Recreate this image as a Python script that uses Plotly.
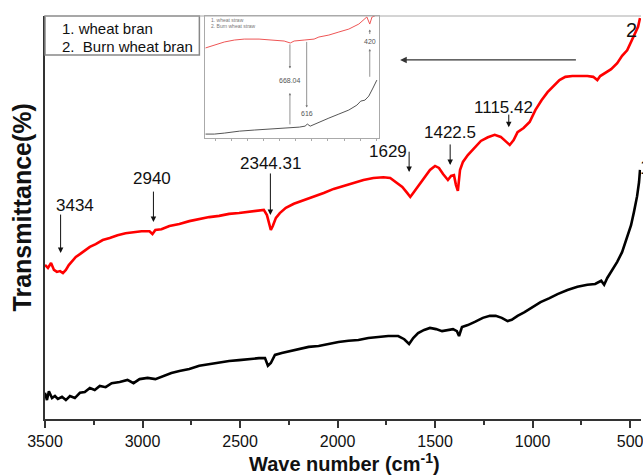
import plotly.graph_objects as go

# ---------------- main spectrum data ----------------
red_wn = [3500, 3485, 3469, 3454, 3439, 3423, 3408, 3393, 3378, 3362, 3342, 3321, 3301, 3270, 3240,
          3204, 3168, 3128, 3087, 3046, 3005, 2964, 2949, 2934, 2903, 2862, 2811, 2760, 2709, 2658,
          2607, 2556, 2505, 2454, 2403, 2378, 2362, 2352, 2342, 2332, 2316, 2296, 2265, 2224, 2173,
          2122, 2071, 2020, 1969, 1918, 1867, 1816, 1765, 1730, 1699, 1668, 1643, 1627, 1612, 1587,
          1556, 1526, 1500, 1480, 1459, 1434, 1418, 1403, 1393, 1383, 1372, 1357, 1332, 1301, 1265,
          1229, 1194, 1163, 1138, 1117, 1097, 1077, 1046, 1015, 985, 954, 923, 893, 862, 832,
          796, 760, 719, 689, 668, 653, 627, 597, 566, 541, 515, 495, 474, 459, 449]
red_t = [38.2, 37.5, 38.7, 37.0, 36.5, 36.7, 36.2, 37.0, 38.2, 39.0, 40.2, 40.9, 41.7, 42.7, 43.4,
         44.4, 44.9, 45.6, 46.1, 46.4, 46.6, 46.6, 45.9, 46.9, 47.1, 47.9, 48.4, 49.1, 49.6, 50.1,
         50.4, 50.9, 51.1, 51.4, 51.6, 51.9, 50.6, 48.4, 46.9, 47.9, 49.9, 51.1, 52.4, 53.4, 54.3,
         55.1, 56.1, 57.1, 57.8, 58.6, 59.3, 59.8, 60.0, 59.8, 58.8, 57.6, 56.1, 55.1, 56.1, 57.8,
         59.8, 61.8, 62.8, 62.3, 60.8, 59.3, 60.3, 60.5, 58.1, 56.6, 61.8, 63.8, 65.5, 67.2, 69.0,
         69.9, 70.5, 70.0, 69.0, 68.0, 69.2, 71.2, 72.2, 73.7, 76.7, 79.1, 81.1, 82.6, 84.1, 84.9,
         85.1, 85.1, 85.1, 84.9, 84.1, 85.1, 85.8, 86.8, 88.3, 90.1, 91.5, 93.5, 95.5, 97.3, 99.5]

black_wn = [3500, 3490, 3480, 3464, 3449, 3434, 3413, 3393, 3372, 3347, 3321, 3296, 3270, 3245, 3219,
            3189, 3158, 3117, 3077, 3046, 3015, 2974, 2934, 2893, 2852, 2811, 2760, 2709, 2658, 2607,
            2556, 2505, 2454, 2403, 2372, 2357, 2342, 2321, 2286, 2240, 2199, 2148, 2097, 2046, 1995,
            1944, 1893, 1842, 1791, 1740, 1689, 1658, 1633, 1612, 1587, 1556, 1526, 1495, 1464, 1434,
            1408, 1388, 1377, 1362, 1332, 1296, 1255, 1219, 1189, 1158, 1128, 1107, 1077, 1041, 1000,
            959, 913, 872, 821, 770, 719, 679, 648, 633, 617, 592, 566, 541, 515, 495,
            480, 464, 454, 449]
black_t = [6.5, 4.7, 6.9, 5.2, 5.7, 5.0, 5.5, 4.7, 5.7, 5.2, 6.5, 6.7, 7.7, 7.2, 8.2,
           7.9, 8.9, 9.2, 9.7, 8.9, 9.9, 10.2, 9.9, 10.7, 11.4, 11.9, 12.4, 13.2, 13.6, 14.1,
           14.4, 14.6, 14.9, 15.1, 15.1, 13.2, 13.9, 15.9, 16.4, 16.9, 17.4, 17.9, 18.1, 18.6, 19.1,
           19.4, 19.6, 20.1, 20.3, 20.6, 20.6, 19.8, 18.6, 20.1, 21.3, 22.1, 22.6, 22.3, 21.8, 22.1,
           22.3, 21.8, 20.6, 22.8, 23.3, 24.1, 25.1, 25.6, 25.6, 25.1, 24.3, 24.6, 25.6, 26.5, 27.8,
           29.0, 30.0, 31.0, 32.0, 32.8, 33.3, 33.5, 34.3, 33.3, 35.0, 37.0, 39.0, 41.4, 44.9, 48.1,
           51.4, 55.3, 58.8, 61.8]

peak_labels = ["3434", "2940", "2344.31", "1629", "1422.5", "1115.42"]
peak_wn = [3434, 2940, 2344.31, 1629, 1422.5, 1115.42]
x_ticks = [3500, 3000, 2500, 2000, 1500, 1000, 500]
legend_lines = ["1. wheat bran", "2.\u00a0\u00a0Burn wheat bran"]

# ---------------- inset data ----------------
in_red_wn = [931, 903, 872, 841, 810, 764, 717, 686, 667, 655, 624, 593, 578, 547, 516, 485,
             454, 438, 429, 420, 413, 404]
in_red_t = [73.8, 76.2, 78.7, 80.3, 81.1, 81.1, 80.3, 79.5, 77.9, 79.5, 80.3, 81.1, 82.8, 84.4,
            86.9, 89.3, 93.4, 96.7, 99.2, 93.4, 99.2, 100]
in_black_wn = [931, 903, 872, 825, 779, 733, 686, 667, 639, 621, 614, 605, 578, 547, 516, 485,
               460, 448, 435, 423, 410, 398]
in_black_t = [3.3, 3.3, 4.1, 5.7, 6.6, 7.4, 8.2, 8.2, 9.0, 9.8, 11.5, 9.8, 13.1, 16.4, 19.7,
              23.0, 27.0, 30.3, 31.1, 34.4, 41.0, 47.5]
in_peaks = ["668.04", "616", "420"]
in_legend = ["1. wheat straw", "2. Burn wheat straw"]

FONT = "Arial, Liberation Sans, sans-serif"

fig = go.Figure()
fig.add_trace(go.Scatter(x=black_wn, y=black_t, mode="lines",
                         line=dict(color="#000000", width=2.6), showlegend=False))
fig.add_trace(go.Scatter(x=red_wn, y=red_t, mode="lines",
                         line=dict(color="#ff0000", width=2.6), showlegend=False))
fig.add_trace(go.Scatter(x=in_red_wn, y=in_red_t, mode="lines", xaxis="x2", yaxis="y2",
                         line=dict(color="#ee5555", width=1), showlegend=False))
fig.add_trace(go.Scatter(x=in_black_wn, y=in_black_t, mode="lines", xaxis="x2", yaxis="y2",
                         line=dict(color="#555555", width=1), showlegend=False))

ann = []
# peak labels and arrows (main plot)
label_pos = [(3434, 53.1, "left", -4), (2949, 59.8, "center", 0), (2344.31, 63.5, "center", 0),
             (1740, 66.5, "center", 0), (1422.5, 71.0, "center", 0), (1150, 77.4, "center", 0)]
arrow_pos = [(3420, 51.1, 41.2), (2944, 56.8, 48.9), (2344.31, 61.3, 50.6),
             (1633, 66.7, 61.3), (1422.5, 68.5, 63.0), (1122, 75.9, 72.4)]
for lab, (lx, ly, anch, xs), (ax_, ay0, ay1) in zip(peak_labels, label_pos, arrow_pos):
    ann.append(dict(x=lx, y=ly, xref="x", yref="y", text=lab, showarrow=False,
                    xanchor=anch, yanchor="middle", xshift=xs,
                    font=dict(family=FONT, size=17, color="#111")))
    ann.append(dict(x=ax_, y=ay1, ax=ax_, ay=ay0, xref="x", yref="y", axref="x", ayref="y",
                    text="", showarrow=True, arrowhead=2, arrowsize=1.1, arrowwidth=1,
                    arrowcolor="#111", standoff=0, startstandoff=0))
# long left arrow
ann.append(dict(x=1679, y=89.1, ax=770, ay=89.1, xref="x", yref="y", axref="x", ayref="y",
                text="", showarrow=True, arrowhead=2, arrowsize=1.1, arrowwidth=1.2,
                arrowcolor="#333"))
# curve numbers
ann.append(dict(x=1, y=0.965, xref="paper", yref="paper", text="2", showarrow=False,
                xanchor="right", yanchor="middle", xshift=-2,
                font=dict(family=FONT, size=20, color="#111")))
ann.append(dict(x=1, y=0.625, xref="paper", yref="paper", text="1", showarrow=False,
                xanchor="left", yanchor="middle", xshift=-3,
                font=dict(family=FONT, size=20, color="#111")))
# legend text
ann.append(dict(x=0.025, y=0.968, xref="paper", yref="paper", text=legend_lines[0],
                showarrow=False, xanchor="left", yanchor="middle",
                font=dict(family=FONT, size=15, color="#111")))
ann.append(dict(x=0.025, y=0.9255, xref="paper", yref="paper", text=legend_lines[1],
                showarrow=False, xanchor="left", yanchor="middle",
                font=dict(family=FONT, size=15, color="#111")))
# axis titles
ann.append(dict(x=0.502, y=-0.109, xref="paper", yref="paper",
                text="<b>Wave number (cm<sup>-1</sup>)</b>", showarrow=False,
                xanchor="center", yanchor="middle",
                font=dict(family=FONT, size=20, color="#111")))
ann.append(dict(x=-0.0385, y=0.525, xref="paper", yref="paper", text="<b>Transmittance(%)</b>",
                showarrow=False, textangle=-90, xanchor="center", yanchor="middle",
                font=dict(family=FONT, size=25, color="#111")))

# inset annotations
ann.append(dict(x=668.04, y=57, ax=668.04, ay=78, xref="x2", yref="y2", axref="x2", ayref="y2",
                text="", showarrow=True, arrowhead=2, arrowsize=0.6, arrowwidth=0.8,
                arrowcolor="#777", standoff=0))
ann.append(dict(x=668.04, y=47, xref="x2", yref="y2", text=in_peaks[0], showarrow=False,
                xanchor="center", yanchor="middle", font=dict(family=FONT, size=7, color="#555")))
ann.append(dict(x=668.04, y=37, ax=668.04, ay=10, xref="x2", yref="y2", axref="x2", ayref="y2",
                text="", showarrow=True, arrowhead=2, arrowsize=0.6, arrowwidth=0.8,
                arrowcolor="#777", standoff=0))
ann.append(dict(x=616, y=25, ax=616, ay=80, xref="x2", yref="y2", axref="x2", ayref="y2",
                text="", showarrow=True, arrowhead=2, arrowsize=0.6, arrowwidth=0.8,
                arrowcolor="#777", standoff=0))
ann.append(dict(x=616, y=20, xref="x2", yref="y2", text=in_peaks[1], showarrow=False,
                xanchor="center", yanchor="middle", font=dict(family=FONT, size=7, color="#555")))
ann.append(dict(x=420, y=79, xref="x2", yref="y2", text=in_peaks[2], showarrow=False,
                xanchor="center", yanchor="middle", font=dict(family=FONT, size=7, color="#555")))
ann.append(dict(x=420, y=89, ax=420, ay=84, xref="x2", yref="y2", axref="x2", ayref="y2",
                text="", showarrow=True, arrowhead=2, arrowsize=0.6, arrowwidth=0.8,
                arrowcolor="#777", standoff=0))
ann.append(dict(x=420, y=73, ax=420, ay=49, xref="x2", yref="y2", axref="x2", ayref="y2",
                text="", showarrow=True, arrowhead=2, arrowsize=0.6, arrowwidth=0.8,
                arrowcolor="#777", standoff=0))
ann.append(dict(x=0.27, y=0.99, xref="paper", yref="paper", text=in_legend[0], showarrow=False,
                xanchor="left", yanchor="middle", xshift=3,
                font=dict(family=FONT, size=5, color="#777")))
ann.append(dict(x=0.27, y=0.975, xref="paper", yref="paper", text=in_legend[1], showarrow=False,
                xanchor="left", yanchor="middle", xshift=3,
                font=dict(family=FONT, size=5, color="#777")))

shapes = [
    # legend box
    dict(type="rect", xref="paper", yref="paper", x0=0, x1=0.259, y0=0.903, y1=1,
         line=dict(color="#888", width=1.5)),
    # top frame line
    dict(type="line", xref="paper", yref="paper", x0=0, x1=1, y0=1, y1=1,
         line=dict(color="#aaa", width=1.2)),
]

fig.update_layout(
    width=643, height=475,
    margin=dict(l=45, r=0, t=16, b=56),
    paper_bgcolor="white", plot_bgcolor="white",
    showlegend=False,
    font=dict(family=FONT),
    xaxis=dict(range=[3500, 444], domain=[0, 1], tickvals=x_ticks, ticktext=[str(t) for t in x_ticks],
               ticks="outside", ticklen=7, tickwidth=1.5, tickcolor="#333",
               ticklabeloverflow="allow",
               showline=True, linecolor="#333", linewidth=1.5, showgrid=False, zeroline=False,
               tickfont=dict(family=FONT, size=16, color="#111"),
               minor=dict(tickvals=[3250, 2750, 2250, 1750, 1250, 750], ticks="outside",
                          ticklen=4, tickwidth=1.5, tickcolor="#333")),
    yaxis=dict(range=[0, 100], domain=[0, 1], showticklabels=False, ticks="",
               showline=True, linecolor="#333", linewidth=1.5, showgrid=False, zeroline=False),
    xaxis2=dict(range=[931, 392], domain=[0.269, 0.56], anchor="y2", showline=True, mirror=True,
                linecolor="#aaa", linewidth=1, ticks="outside", ticklen=2, tickcolor="#aaa",
                dtick=50, showticklabels=False, showgrid=False, zeroline=False),
    yaxis2=dict(range=[0, 100], domain=[0.697, 1.0], anchor="x2", showline=True, mirror=True,
                linecolor="#aaa", linewidth=1, showticklabels=False, ticks="",
                showgrid=False, zeroline=False),
    annotations=ann,
    shapes=shapes,
)

fig.write_html("out.html")
